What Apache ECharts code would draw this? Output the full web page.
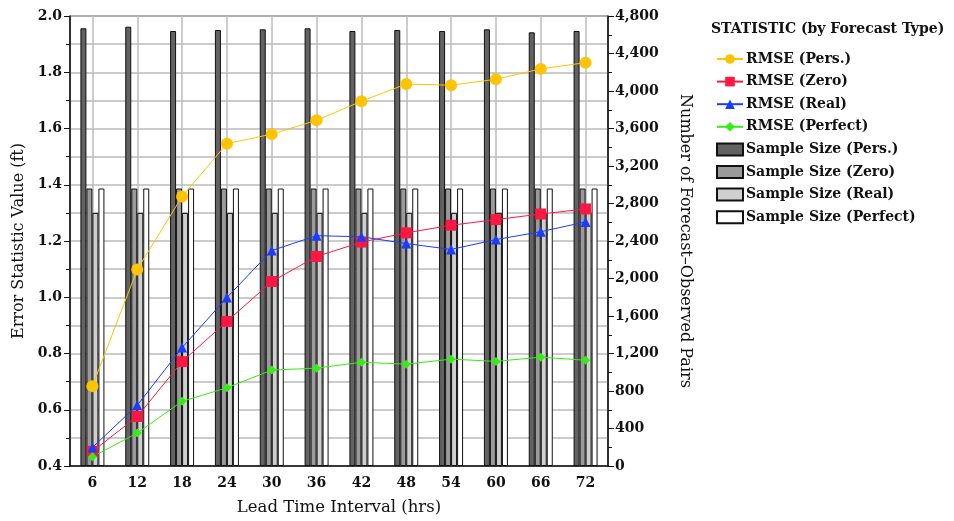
<!DOCTYPE html>
<html><head><meta charset="utf-8">
<script src="https://cdn.jsdelivr.net/npm/echarts@6/dist/echarts.min.js"></script>
<style>html,body{margin:0;padding:0;background:#fff;overflow:hidden}#c{width:954px;height:521px}</style>
</head><body><div id="c"></div>
<script>
const categories = ['6','12','18','24','30','36','42','48','54','60','66','72'];
const rmsePers    = [0.684,1.099,1.358,1.546,1.580,1.629,1.697,1.758,1.754,1.775,1.812,1.834];
const rmseZero    = [0.452,0.576,0.771,0.914,1.056,1.145,1.196,1.229,1.256,1.276,1.296,1.314];
const rmseReal    = [0.466,0.616,0.821,0.999,1.166,1.219,1.215,1.191,1.170,1.205,1.233,1.268];
const rmsePerfect = [0.433,0.517,0.630,0.678,0.741,0.748,0.769,0.762,0.780,0.772,0.787,0.776];
const sizePers    = [4669,4686,4640,4651,4658,4669,4640,4651,4640,4658,4626,4640];
const sizeZero    = [2960,2960,2960,2960,2960,2960,2960,2960,2960,2960,2960,2960];
const sizeReal    = [2700,2700,2700,2700,2700,2700,2700,2700,2700,2700,2700,2700];
const sizePerfect = [2960,2960,2960,2960,2960,2960,2960,2960,2960,2960,2960,2960];

const FONT = 'DejaVu Serif';
const chart = echarts.init(document.getElementById('c'), null, {renderer:'canvas'});
function barS(name, data, color){
  return {name, type:'bar', yAxisIndex:1, data, barWidth:6, barGap:'0%', barCategoryGap:'50%',
    itemStyle:{color, borderColor:'#111', borderWidth:1}, z:2, animation:false};
}
function lineS(name, data, color, symbol, size){
  return {name, type:'line', yAxisIndex:0, data, symbol, symbolSize:size,
    lineStyle:{color, width:1}, itemStyle:{color}, z:5, animation:false};
}
const lg = (n)=>({name:n});
const lgRect = (n)=>({name:n, icon:'rect'});
chart.setOption({
  animation:false,
  title:{text:'STATISTIC (by Forecast Type)', left:706, top:17,
    textStyle:{fontFamily:FONT, fontSize:14, fontWeight:'bold', color:'#111'}},
  legend:{orient:'vertical', left:711, top:47, itemWidth:26, itemHeight:12, itemGap:8.6,
    textStyle:{fontFamily:FONT, fontSize:14, fontWeight:'bold', color:'#111', padding:[0,0,0,-2]},
    data:[lg('RMSE (Pers.)'),lg('RMSE (Zero)'),lg('RMSE (Real)'),lg('RMSE (Perfect)'),
      lgRect('Sample Size (Pers.)'),lgRect('Sample Size (Zero)'),lgRect('Sample Size (Real)'),lgRect('Sample Size (Perfect)')]},
  grid:{left:70, width:538, top:16, height:453, show:true, borderColor:'#222', borderWidth:1, backgroundColor:'transparent'},
  xAxis:{type:'category', data:categories, boundaryGap:true,
    name:'Lead Time Interval (hrs)', nameLocation:'middle', nameGap:33,
    nameTextStyle:{fontFamily:FONT, fontSize:16.5, color:'#111'},
    axisLine:{lineStyle:{color:'#111', width:1.5}},
    axisTick:{alignWithLabel:true, length:5, lineStyle:{color:'#111'}},
    axisLabel:{fontFamily:FONT, fontSize:14, fontWeight:'bold', color:'#111', margin:10},
    splitLine:{show:true, alignWithLabel:true, lineStyle:{color:'#bbb', width:1.5}}},
  yAxis:[
    {type:'value', min:0.4, max:2.0, interval:0.2, position:'left',
     name:'Error Statistic Value (ft)', nameLocation:'middle', nameGap:43, nameRotate:90,
     nameTextStyle:{fontFamily:FONT, fontSize:16, color:'#111'},
     axisLine:{show:true, lineStyle:{color:'#111', width:1.5}},
     axisTick:{show:true, length:6, lineStyle:{color:'#111'}},
     minorTick:{show:true, splitNumber:2, length:4, lineStyle:{color:'#111'}},
     axisLabel:{fontFamily:FONT, fontSize:14, fontWeight:'bold', color:'#111', margin:8,
       formatter:v=>v.toFixed(1)},
     splitLine:{show:true, lineStyle:{color:'#bbb', width:1.5}},
     minorSplitLine:{show:true, lineStyle:{color:'#bbb', width:1.5}}},
    {type:'value', min:0, max:4800, interval:400, position:'right',
     name:'Number of Forecast\u2013Observed Pairs', nameLocation:'middle', nameGap:69, nameRotate:-90,
     nameTextStyle:{fontFamily:FONT, fontSize:16, color:'#111'},
     axisLine:{show:true, lineStyle:{color:'#111', width:1.5}},
     axisTick:{show:true, length:6, lineStyle:{color:'#111'}},
     minorTick:{show:true, splitNumber:2, length:4, lineStyle:{color:'#111'}},
     axisLabel:{fontFamily:FONT, fontSize:14, fontWeight:'bold', color:'#111', margin:7,
       formatter:v=>v.toLocaleString('en-US')},
     splitLine:{show:false}}
  ],
  series:[
    barS('Sample Size (Pers.)', sizePers, '#626262'),
    barS('Sample Size (Zero)', sizeZero, '#9a9a9a'),
    barS('Sample Size (Real)', sizeReal, '#cfcfcf'),
    barS('Sample Size (Perfect)', sizePerfect, '#ffffff'),
    lineS('RMSE (Pers.)', rmsePers, '#FFC400', 'circle', 12),
    lineS('RMSE (Zero)', rmseZero, '#FF1744', 'rect', 11),
    lineS('RMSE (Real)', rmseReal, '#1A3CFF', 'triangle', 10),
    lineS('RMSE (Perfect)', rmsePerfect, '#33EE11', 'diamond', 9)
  ]
});
</script></body></html>
